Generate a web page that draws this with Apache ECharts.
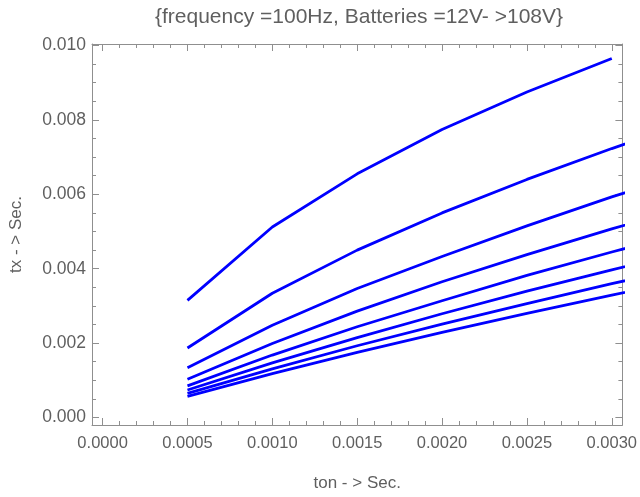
<!DOCTYPE html>
<html>
<head>
<meta charset="utf-8">
<script src="https://cdn.jsdelivr.net/npm/echarts@6/dist/echarts.min.js"></script>
<style>
  html, body { margin: 0; padding: 0; background: #ffffff; }
  #chart { width: 640px; height: 497px; }
</style>
</head>
<body>
<div id="chart"></div>
<script>
// ton samples (seconds)
const tonValues = [0.0005, 0.0010, 0.0015, 0.0020, 0.0025, 0.0030, 0.0035];

// tx (seconds) for each battery voltage step, highest curve first
const txCurve1 = [0.00315, 0.00512, 0.00655, 0.00774, 0.00875, 0.00965];
const txCurve2 = [0.00187, 0.00334, 0.00450, 0.00550, 0.00640, 0.00723, 0.00800];
const txCurve3 = [0.00134, 0.00248, 0.00347, 0.00433, 0.00515, 0.00593, 0.00665];
const txCurve4 = [0.00103, 0.00199, 0.00286, 0.00365, 0.00438, 0.00507, 0.00572];
const txCurve5 = [0.00085, 0.00168, 0.00244, 0.00314, 0.00382, 0.00445, 0.00505];
const txCurve6 = [0.00074, 0.00147, 0.00215, 0.00279, 0.00340, 0.00397, 0.00452];
const txCurve7 = [0.00065, 0.00131, 0.00193, 0.00251, 0.00306, 0.00360, 0.00410];
const txCurve8 = [0.00057, 0.00118, 0.00175, 0.00229, 0.00280, 0.00329, 0.00377];

// Tick labels
const xTickLabels = ['0.0000', '0.0005', '0.0010', '0.0015', '0.0020', '0.0025', '0.0030'];
const yTickLabels = ['0.000', '0.002', '0.004', '0.006', '0.008', '0.010'];

const titleText = '{frequency =100Hz, Batteries =12V- >108V}';
const xName = 'ton - > Sec.';
const yName = 'tx - > Sec.';

// Plot window (small padding around the data range)
const X_MIN = -0.0000625, X_MAX = 0.0030625;
const Y_MIN = -0.0002, Y_MAX = 0.01004;

const FRAME = '#8f8f8f';
const TEXT = '#5f5f5f';
const FONT = "'Liberation Sans', Arial, sans-serif";
const X_LABEL_SIZE = 16.5;
const Y_LABEL_SIZE = 17.5;
const NAME_SIZE = 17;
const TITLE_SIZE = 21;

const xMajor = xTickLabels.map(Number);
const yMajor = yTickLabels.map(Number);
const xMinor = [];
for (let i = 0; i <= 30; i++) if (i % 5 !== 0) xMinor.push(i / 10000);
const yMinor = [];
for (let i = 0; i <= 20; i++) if (i % 4 !== 0) yMinor.push(i / 2000);

const curves = [txCurve1, txCurve2, txCurve3, txCurve4, txCurve5, txCurve6, txCurve7, txCurve8];

// One side of the frame: line, major ticks and (optionally) tick labels
function frameAxis(pos, major, labels, isX, showLabels) {
  return {
    type: 'value',
    position: pos,
    min: isX ? X_MIN : Y_MIN,
    max: isX ? X_MAX : Y_MAX,
    axisLine: { show: true, onZero: false, lineStyle: { color: FRAME, width: 1 } },
    axisTick: { show: true, inside: true, length: 7, customValues: major,
                lineStyle: { color: FRAME, width: 1 } },
    axisLabel: { show: showLabels, customValues: major,
                 formatter: v => labels[major.findIndex(m => Math.abs(m - v) < 1e-9)] || '',
                 color: TEXT, fontFamily: FONT, fontSize: isX ? X_LABEL_SIZE : Y_LABEL_SIZE,
                 margin: isX ? 10 : 6 },
    splitLine: { show: false },
    minorTick: { show: false },
    silent: true
  };
}

// Short minor ticks on one side of the frame
function minorAxis(pos, minor, isX) {
  return {
    type: 'value',
    position: pos,
    min: isX ? X_MIN : Y_MIN,
    max: isX ? X_MAX : Y_MAX,
    axisLine: { show: false, onZero: false },
    axisTick: { show: true, inside: true, length: 4, customValues: minor,
                lineStyle: { color: FRAME, width: 1 } },
    axisLabel: { show: false },
    splitLine: { show: false },
    silent: true
  };
}

const xBottom = frameAxis('bottom', xMajor, xTickLabels, true, true);
xBottom.name = xName;
xBottom.nameLocation = 'middle';
xBottom.nameGap = 50;
xBottom.nameTextStyle = { color: TEXT, fontFamily: FONT, fontSize: NAME_SIZE };

const yLeft = frameAxis('left', yMajor, yTickLabels, false, true);
yLeft.name = yName;
yLeft.nameLocation = 'middle';
yLeft.nameGap = 67;
yLeft.nameTextStyle = { color: TEXT, fontFamily: FONT, fontSize: NAME_SIZE };

const option = {
  animation: false,
  backgroundColor: '#ffffff',
  grid: { left: 91, right: 14, top: 44, bottom: 69, containLabel: false },
  xAxis: [
    xBottom,
    frameAxis('top', xMajor, xTickLabels, true, false),
    minorAxis('bottom', xMinor, true),
    minorAxis('top', xMinor, true)
  ],
  yAxis: [
    yLeft,
    frameAxis('right', yMajor, yTickLabels, false, false),
    minorAxis('left', yMinor, false),
    minorAxis('right', yMinor, false)
  ],
  graphic: [{
    type: 'text',
    x: 359,
    y: 17,
    silent: true,
    style: { text: titleText, fill: TEXT, fontFamily: FONT, fontSize: TITLE_SIZE,
             align: 'center', verticalAlign: 'middle' }
  }],
  series: curves.map((vals, i) => ({
    name: 'tx' + (i + 1),
    type: 'line',
    xAxisIndex: 0,
    yAxisIndex: 0,
    showSymbol: false,
    clip: true,
    lineStyle: { color: '#0000ff', width: 2.8 },
    data: vals.map((v, k) => [tonValues[k], v])
  }))
};

const chart = echarts.init(document.getElementById('chart'), null, { renderer: 'canvas' });
chart.setOption(option);
</script>
</body>
</html>
